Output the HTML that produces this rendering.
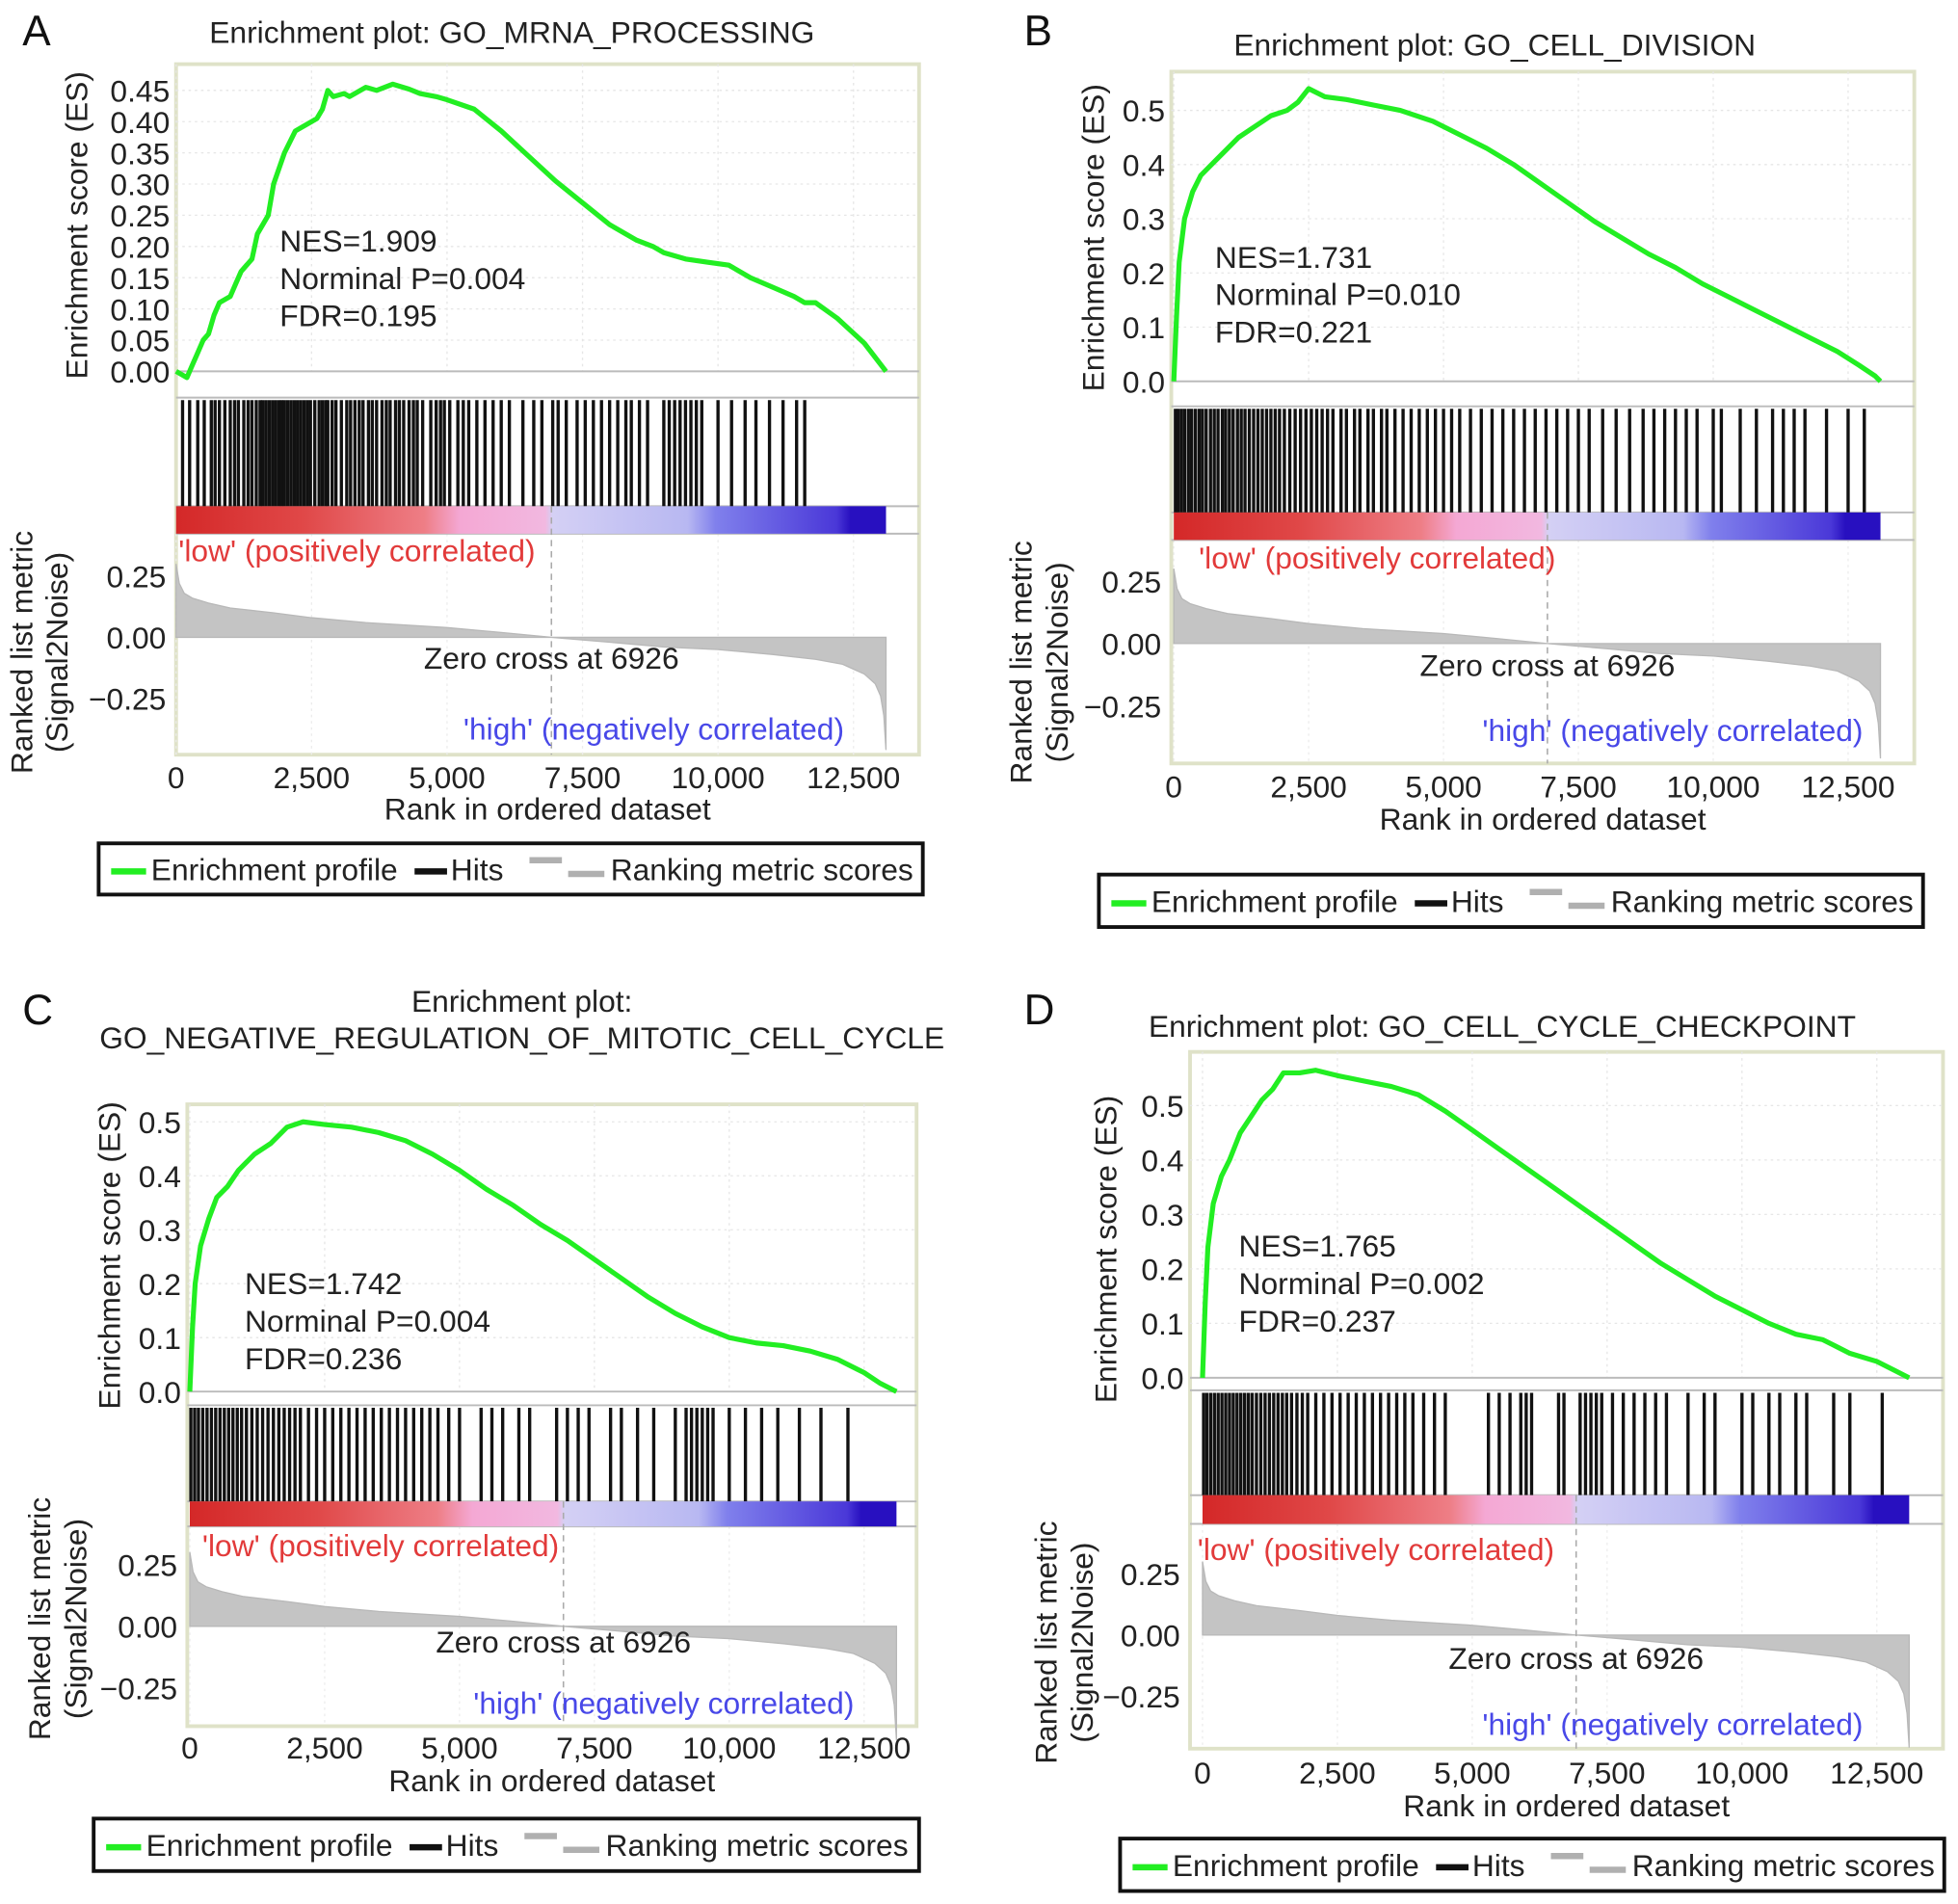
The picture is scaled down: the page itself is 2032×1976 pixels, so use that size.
<!DOCTYPE html>
<html><head><meta charset="utf-8"><style>
html,body{margin:0;padding:0;background:#fff;}
svg{display:block;font-family:"Liberation Sans",Arial,sans-serif;}
</style></head><body>
<svg id="fig" width="2032" height="1976" viewBox="0 0 1568 1524" xmlns="http://www.w3.org/2000/svg">
<defs>
<linearGradient id="rankGrad" x1="0" x2="1" y1="0" y2="0">
<stop offset="0" stop-color="#d42828"/>
<stop offset="0.18" stop-color="#e04848"/>
<stop offset="0.35" stop-color="#ee7e86"/>
<stop offset="0.40" stop-color="#f4a8d4"/>
<stop offset="0.52" stop-color="#f2b8e0"/>
<stop offset="0.53" stop-color="#d4d0f4"/>
<stop offset="0.72" stop-color="#b8b8f2"/>
<stop offset="0.76" stop-color="#8080ec"/>
<stop offset="0.93" stop-color="#4a38d8"/>
<stop offset="0.95" stop-color="#2810c0"/>
<stop offset="1" stop-color="#2810c0"/>
</linearGradient>
</defs>
</svg>
<script>
// ---- shared data ----
const rankTicks = [0, 2500, 5000, 7500, 10000, 12500];
const rankTickLabels = ["0", "2,500", "5,000", "7,500", "10,000", "12,500"];
const totalRanks = 13100;
const zeroCross = 6926;
const metricRanks = [0, 60, 150, 300, 600, 1000, 1800, 2500, 3500, 5000, 6000, 6926, 8000, 9000, 10000, 11000, 11800, 12300, 12700, 12900, 13000, 13060, 13100];
const metricVals = [0.30, 0.22, 0.18, 0.16, 0.14, 0.12, 0.10, 0.08, 0.06, 0.04, 0.02, 0.0, -0.02, -0.04, -0.05, -0.07, -0.09, -0.11, -0.15, -0.19, -0.24, -0.32, -0.46];
const metricTicks = [0.25, 0.0, -0.25];
const metricTickLabels = ["0.25", "0.00", "\u22120.25"];

// ---- panel A ----
const esRanksA = [0, 200, 300, 400, 500, 600, 700, 800, 1000, 1100, 1200, 1400, 1500, 1700, 1800, 2000, 2200, 2500, 2600, 2700, 2800, 2900, 3100, 3200, 3500, 3700, 4000, 4300, 4500, 4800, 5000, 5500, 6000, 6500, 7000, 7500, 8000, 8500, 8800, 9000, 9400, 9800, 10200, 10600, 11000, 11400, 11600, 11800, 12200, 12700, 13100];
const esValsA = [0.0, -0.01, 0.01, 0.03, 0.05, 0.06, 0.09, 0.11, 0.12, 0.14, 0.16, 0.18, 0.22, 0.25, 0.30, 0.35, 0.385, 0.40, 0.405, 0.42, 0.45, 0.44, 0.445, 0.44, 0.455, 0.45, 0.46, 0.452, 0.445, 0.44, 0.435, 0.42, 0.385, 0.345, 0.305, 0.27, 0.235, 0.21, 0.20, 0.19, 0.18, 0.175, 0.17, 0.15, 0.135, 0.12, 0.11, 0.11, 0.085, 0.045, 0.0];
const esTicksA = [0, 0.05, 0.10, 0.15, 0.20, 0.25, 0.30, 0.35, 0.40, 0.45];
const esTickLabelsA = ["0.00", "0.05", "0.10", "0.15", "0.20", "0.25", "0.30", "0.35", "0.40", "0.45"];
const hitsA = [120, 250, 400, 520, 650, 720, 800, 900, 1000, 1080, 1150, 1250, 1330, 1400, 1480, 1550, 1600, 1660, 1720, 1780, 1840, 1900, 1950, 2000, 2060, 2120, 2180, 2240, 2300, 2360, 2420, 2480, 2560, 2640, 2700, 2760, 2800, 2880, 2950, 3050, 3150, 3220, 3300, 3380, 3450, 3550, 3620, 3700, 3800, 3880, 3950, 4050, 4120, 4200, 4300, 4380, 4450, 4550, 4700, 4800, 4880, 4950, 5050, 5200, 5300, 5400, 5550, 5700, 5850, 6000, 6150, 6400, 6600, 6750, 6950, 7050, 7200, 7400, 7550, 7700, 7850, 8000, 8150, 8300, 8400, 8550, 8700, 9000, 9100, 9200, 9300, 9400, 9500, 9600, 9700, 10000, 10250, 10500, 10700, 10950, 11200, 11450, 11600];

// ---- panel B ----
const esRanksB = [0, 50, 100, 200, 350, 500, 700, 900, 1200, 1500, 1800, 2100, 2300, 2500, 2800, 3200, 3700, 4200, 4800, 5300, 5800, 6300, 6800, 7300, 7800, 8300, 8800, 9300, 9800, 10300, 10800, 11300, 11800, 12300, 12700, 13000, 13100];
const esValsB = [0.0, 0.12, 0.22, 0.30, 0.35, 0.38, 0.40, 0.42, 0.45, 0.47, 0.49, 0.50, 0.515, 0.54, 0.525, 0.52, 0.51, 0.50, 0.48, 0.455, 0.43, 0.40, 0.365, 0.33, 0.295, 0.265, 0.235, 0.21, 0.18, 0.155, 0.13, 0.105, 0.08, 0.055, 0.03, 0.01, 0.0];
const esTicksB = [0, 0.1, 0.2, 0.3, 0.4, 0.5];
const esTickLabelsB = ["0.0", "0.1", "0.2", "0.3", "0.4", "0.5"];
const hitsB = [30, 80, 140, 200, 270, 330, 400, 470, 530, 600, 680, 750, 820, 900, 960, 1030, 1100, 1180, 1250, 1320, 1400, 1480, 1560, 1640, 1720, 1800, 1880, 1960, 2050, 2150, 2250, 2350, 2450, 2550, 2650, 2750, 2850, 2950, 3100, 3200, 3350, 3450, 3600, 3700, 3850, 3950, 4100, 4250, 4400, 4550, 4700, 4850, 5000, 5150, 5300, 5500, 5700, 5900, 6100, 6300, 6500, 6700, 6900, 7100, 7300, 7500, 7700, 7950, 8200, 8450, 8700, 8900, 9100, 9300, 9500, 9700, 10000, 10150, 10500, 10800, 11100, 11300, 11500, 11700, 12100, 12500, 12800];

// ---- panel C ----
const esRanksC = [0, 50, 100, 200, 350, 500, 700, 900, 1200, 1500, 1800, 2100, 2500, 3000, 3500, 4000, 4500, 5000, 5500, 6000, 6500, 7000, 7500, 8000, 8500, 9000, 9500, 10000, 10500, 11000, 11500, 12000, 12500, 12800, 13100];
const esValsC = [0.0, 0.12, 0.20, 0.27, 0.32, 0.36, 0.38, 0.41, 0.44, 0.46, 0.49, 0.50, 0.495, 0.49, 0.48, 0.465, 0.44, 0.41, 0.375, 0.345, 0.31, 0.28, 0.245, 0.21, 0.175, 0.145, 0.12, 0.10, 0.09, 0.085, 0.075, 0.06, 0.035, 0.015, 0.0];
const esTicksC = [0, 0.1, 0.2, 0.3, 0.4, 0.5];
const esTickLabelsC = ["0.0", "0.1", "0.2", "0.3", "0.4", "0.5"];
const hitsC = [20, 90, 160, 240, 320, 400, 480, 560, 640, 720, 800, 880, 960, 1050, 1150, 1250, 1350, 1450, 1550, 1650, 1750, 1850, 1950, 2050, 2200, 2350, 2500, 2650, 2800, 2950, 3100, 3250, 3400, 3550, 3700, 3850, 4000, 4150, 4300, 4450, 4600, 4800, 5000, 5400, 5600, 5800, 6100, 6300, 6800, 7000, 7200, 7400, 7800, 8000, 8300, 8600, 9000, 9200, 9300, 9400, 9500, 9600, 9700, 10000, 10300, 10600, 10900, 11300, 11700, 12200];

// ---- panel D ----
const esRanksD = [0, 50, 100, 200, 350, 500, 700, 900, 1100, 1300, 1500, 1800, 2100, 2500, 3000, 3500, 4000, 4500, 5000, 5500, 6000, 6500, 7000, 7500, 8000, 8500, 9000, 9500, 10000, 10500, 11000, 11500, 12000, 12500, 12800, 13100];
const esValsD = [0.0, 0.14, 0.24, 0.32, 0.37, 0.40, 0.45, 0.48, 0.51, 0.53, 0.56, 0.56, 0.565, 0.555, 0.545, 0.535, 0.52, 0.49, 0.455, 0.42, 0.385, 0.35, 0.315, 0.28, 0.245, 0.21, 0.18, 0.15, 0.125, 0.10, 0.08, 0.07, 0.045, 0.03, 0.015, 0.0];
const esTicksD = [0, 0.1, 0.2, 0.3, 0.4, 0.5];
const esTickLabelsD = ["0.0", "0.1", "0.2", "0.3", "0.4", "0.5"];
const hitsD = [20, 80, 150, 220, 290, 360, 430, 500, 570, 640, 710, 780, 850, 920, 1000, 1080, 1160, 1240, 1320, 1400, 1480, 1560, 1650, 1750, 1850, 1950, 2100, 2250, 2400, 2550, 2700, 2850, 3000, 3150, 3300, 3450, 3600, 3750, 3900, 4100, 4300, 4500, 5300, 5500, 5700, 5900, 6000, 6100, 6600, 6700, 7000, 7100, 7200, 7300, 7400, 7600, 7800, 8000, 8200, 8400, 8600, 9000, 9300, 9500, 10000, 10200, 10500, 10700, 11000, 11200, 11700, 12000, 12600];

const NS = "http://www.w3.org/2000/svg";
const svg = document.getElementById("fig");
const FS = 24.5;
function mk(tag, attrs, parent, text) {
  const e = document.createElementNS(NS, tag);
  for (const k in attrs) e.setAttribute(k, attrs[k]);
  if (text !== undefined) e.textContent = text;
  (parent || svg).appendChild(e);
  return e;
}

const panels = [
  {id:"a", letter:"A", lx:18, ly:36, titles:["Enrichment plot: GO_MRNA_PROCESSING"], tx:410, ty:34,
   L:141, R:736, T:51, B:604, y0:297, esPer:500, hTop:318, bTop:405, bBot:427, rY0:510, rPer:196,
   x0:141, xPer:108.5/2500, tickY:631, axY:656, esLabX:70, esLabY:180, rLabX1:26, rLabX2:54, rLabY:522,
   statsX:224, statsY:201, lowX:143, lowY:449, zcY:535, hiR:676, hiY:592,
   leg:[79,675,660,41], es:[esRanksA, esValsA], ticks:[esTicksA, esTickLabelsA], hits:hitsA},
  {id:"b", letter:"B", lx:820, ly:36, titles:["Enrichment plot: GO_CELL_DIVISION"], tx:1197, ty:44,
   L:938, R:1533, T:57, B:611, y0:305, esPer:434, hTop:325, bTop:410, bBot:432, rY0:515, rPer:200,
   x0:940, xPer:108/2500, tickY:638, axY:664, esLabX:884, esLabY:190, rLabX1:826, rLabX2:855, rLabY:530,
   statsX:973, statsY:214, lowX:960, lowY:455, zcY:541, hiR:1492, hiY:593,
   leg:[880,700,660,42], es:[esRanksB, esValsB], ticks:[esTicksB, esTickLabelsB], hits:hitsB},
  {id:"c", letter:"C", lx:18, ly:820, titles:["Enrichment plot:", "GO_NEGATIVE_REGULATION_OF_MITOTIC_CELL_CYCLE"], tx:418, ty:810,
   L:150, R:734, T:884, B:1382, y0:1114, esPer:432, hTop:1125, bTop:1202, bBot:1222, rY0:1302, rPer:198,
   x0:152, xPer:108/2500, tickY:1408, axY:1434, esLabX:96, esLabY:1005, rLabX1:40, rLabX2:69, rLabY:1296,
   statsX:196, statsY:1036, lowX:162, lowY:1246, zcY:1323, hiR:684, hiY:1372,
   leg:[75,1456,661,42], es:[esRanksC, esValsC], ticks:[esTicksC, esTickLabelsC], hits:hitsC},
  {id:"d", letter:"D", lx:820, ly:820, titles:["Enrichment plot: GO_CELL_CYCLE_CHECKPOINT"], tx:1203, ty:830,
   L:953, R:1556, T:842, B:1400, y0:1103, esPer:436, hTop:1113, bTop:1197, bBot:1220, rY0:1309, rPer:196,
   x0:963, xPer:108/2500, tickY:1428, axY:1454, esLabX:894, esLabY:1000, rLabX1:846, rLabX2:875, rLabY:1315,
   statsX:992, statsY:1006, lowX:959, lowY:1249, zcY:1336, hiR:1492, hiY:1389,
   leg:[897,1472,660,42], es:[esRanksD, esValsD], ticks:[esTicksD, esTickLabelsD], hits:hitsD}
];

const stats = {a:["NES=1.909","Norminal P=0.004","FDR=0.195"], b:["NES=1.731","Norminal P=0.010","FDR=0.221"],
               c:["NES=1.742","Norminal P=0.004","FDR=0.236"], d:["NES=1.765","Norminal P=0.002","FDR=0.237"]};

panels.forEach(p => {
  const g = mk("g", {});
  
  
  const X = r => p.x0 + r * p.xPer;
  const YE = v => p.y0 - v * p.esPer;
  const YR = v => p.rY0 - v * p.rPer;

  const letter = mk("text", {x:p.lx, y:p.ly, "font-size":34, fill:"#111"}, g, p.letter);
  
  
  p.titles.forEach((t, i) => {
    const tt = mk("text", {x:p.tx, y:p.ty + i*29, "font-size":FS, "text-anchor":"middle", fill:"#222"}, g, t);
    
    
  });

  const fr = mk("rect", {x:p.L, y:p.T, width:p.R-p.L, height:p.B-p.T, fill:"#fff", stroke:"#dfe2c8", "stroke-width":3}, g);
  
  

  rankTicks.forEach(r => {
    const gl = mk("line", {x1:X(r), x2:X(r), y1:p.T, y2:p.y0, stroke:"#e6e6e6", "stroke-width":1, "stroke-dasharray":"2,3"}, g);
    
    
    const gl2 = mk("line", {x1:X(r), x2:X(r), y1:p.bBot, y2:p.B, stroke:"#ececec", "stroke-width":1, "stroke-dasharray":"2,3"}, g);
    
    
  });
  p.ticks[0].forEach((v, i) => {
    const gl = mk("line", {x1:p.L, x2:p.R, y1:YE(v), y2:YE(v), stroke:"#e6e6e6", "stroke-width":1, "stroke-dasharray":"2,3"}, g);
    
    
    const tl = mk("text", {x:p.L-5, y:YE(v)+9, "font-size":FS, "text-anchor":"end", fill:"#222"}, g, p.ticks[1][i]);
    
    
  });

  [p.y0, p.hTop, p.bTop, p.bBot].forEach(y => {
    const s = mk("line", {x1:p.L, x2:p.R, y1:y, y2:y, stroke:"#bbb", "stroke-width":1.5}, g);
    
    
  });

  p.hits.forEach(r => {
    const h = mk("line", {x1:X(r), x2:X(r), y1:p.hTop+2, y2:p.bTop, stroke:"#111", "stroke-width":2.6}, g);
    
    
  });

  const cb = mk("rect", {x:X(0), y:p.bTop, width:X(totalRanks)-X(0), height:p.bBot-p.bTop, fill:"url(#rankGrad)"}, g);
  
  

  let d = "M" + X(0) + "," + YR(0);
  metricRanks.forEach((r, i) => { d += " L" + X(r).toFixed(1) + "," + YR(metricVals[i]).toFixed(1); });
  d += " L" + X(totalRanks) + "," + YR(0) + " Z";
  const ma = mk("path", {d:d, fill:"#c4c4c4", stroke:"#b8b8b8", "stroke-width":1}, g);
  
  
  const zl = mk("line", {x1:X(zeroCross), x2:X(zeroCross), y1:p.bTop, y2:p.B, stroke:"#aaa", "stroke-width":1.2, "stroke-dasharray":"5,4"}, g);
  
  
  metricTicks.forEach((v, i) => {
    const tl = mk("text", {x:p.L-8, y:YR(v)+9, "font-size":FS, "text-anchor":"end", fill:"#222"}, g, metricTickLabels[i]);
    
    
  });

  let pts = p.es[0].map((r, i) => X(r).toFixed(1) + "," + YE(p.es[1][i]).toFixed(1)).join(" ");
  const cur = mk("polyline", {points:pts, fill:"none", stroke:"#22ee22", "stroke-width":4, "stroke-linejoin":"round"}, g);
  
  

  rankTicks.forEach((r, i) => {
    const tl = mk("text", {x:X(r), y:p.tickY, "font-size":FS, "text-anchor":"middle", fill:"#222"}, g, rankTickLabels[i]);
    
    
  });
  const ax = mk("text", {x:(p.L+p.R)/2, y:p.axY, "font-size":FS, "text-anchor":"middle", fill:"#222"}, g, "Rank in ordered dataset");
  
  

  const yl = mk("text", {x:p.esLabX, y:p.esLabY, "font-size":FS, "text-anchor":"middle", fill:"#222", transform:"rotate(-90 "+p.esLabX+" "+p.esLabY+")"}, g, "Enrichment score (ES)");
  
  
  const yl1 = mk("text", {x:p.rLabX1, y:p.rLabY, "font-size":FS, "text-anchor":"middle", fill:"#222", transform:"rotate(-90 "+p.rLabX1+" "+p.rLabY+")"}, g, "Ranked list metric");
  
  
  const yl2 = mk("text", {x:p.rLabX2, y:p.rLabY, "font-size":FS, "text-anchor":"middle", fill:"#222", transform:"rotate(-90 "+p.rLabX2+" "+p.rLabY+")"}, g, "(Signal2Noise)");
  
  

  stats[p.id].forEach((s, i) => {
    const st = mk("text", {x:p.statsX, y:p.statsY + i*30, "font-size":FS, fill:"#222"}, g, s);
    
    
  });
  const lo = mk("text", {x:p.lowX, y:p.lowY, "font-size":FS, fill:"#e23a3a"}, g, "'low' (positively correlated)");
  
  
  const zc = mk("text", {x:X(zeroCross), y:p.zcY, "font-size":FS, "text-anchor":"middle", fill:"#222"}, g, "Zero cross at 6926");
  
  
  const hi = mk("text", {x:p.hiR, y:p.hiY, "font-size":FS, "text-anchor":"end", fill:"#4848e8"}, g, "'high' (negatively correlated)");
  
  

  const [lx, ly, lw, lh] = p.leg;
  const lg = mk("g", {}, g);
  
  
  mk("rect", {x:lx, y:ly, width:lw, height:lh, fill:"#fff", stroke:"#111", "stroke-width":3}, lg);
  const cy = ly + lh/2;
  const e1 = mk("line", {x1:lx+10, x2:lx+38, y1:cy+2, y2:cy+2, stroke:"#22ee22", "stroke-width":5}, lg);
  
  
  const t1 = mk("text", {x:lx+42, y:cy+9, "font-size":FS, fill:"#222"}, lg, "Enrichment profile");
  
  
  const e2 = mk("line", {x1:lx+253, x2:lx+279, y1:cy+2, y2:cy+2, stroke:"#111", "stroke-width":5}, lg);
  
  
  const t2 = mk("text", {x:lx+282, y:cy+9, "font-size":FS, fill:"#222"}, lg, "Hits");
  
  
  const e3 = mk("line", {x1:lx+345, x2:lx+371, y1:cy-7, y2:cy-7, stroke:"#b0b0b0", "stroke-width":5}, lg);
  
  
  const e4 = mk("line", {x1:lx+376, x2:lx+405, y1:cy+4, y2:cy+4, stroke:"#b0b0b0", "stroke-width":5}, lg);
  
  
  const t3 = mk("text", {x:lx+410, y:cy+9, "font-size":FS, fill:"#222"}, lg, "Ranking metric scores");
  
  
});
</script>
</body></html>
